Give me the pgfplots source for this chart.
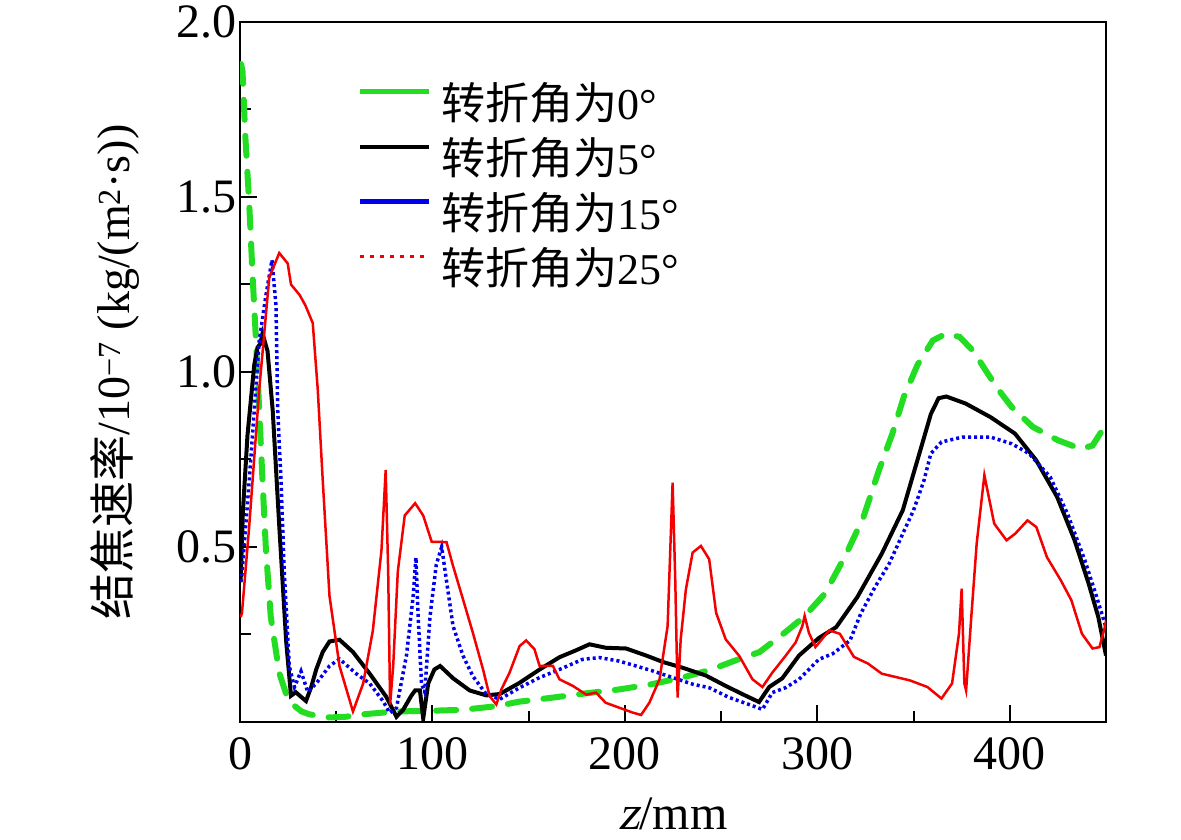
\documentclass[border=0pt]{standalone}
\usepackage{pgfplots}
\pgfplotsset{compat=1.18}
\usepackage{fontspec}
\setmainfont{Liberation Serif}
\newfontfamily\cjk{Noto Sans CJK SC}
\newfontfamily\itserif{Liberation Serif}[FakeSlant=0.22]
\definecolor{cgreen}{RGB}{34,221,34}
\definecolor{cblue}{RGB}{0,0,235}
\definecolor{cred}{RGB}{245,0,0}
\begin{document}
\begin{tikzpicture}[x=1pt,y=1pt]
\path[use as bounding box] (0,0) rectangle (1181,840);
\begin{axis}[
  at={(240pt,118pt)}, anchor=south west,
  scale only axis, width=866pt, height=700pt,
  xmin=0, xmax=450, ymin=0, ymax=2,
  xtick={0,100,200,300,400},
  minor xtick={50,150,250,350},
  ytick={0.5,1.0,1.5,2.0},
  minor ytick={0.25,0.75,1.25,1.75},
  xtick pos=bottom, ytick pos=left,
  tick align=inside,
  major tick length=17pt, minor tick length=11pt,
  every tick/.style={black, line width=2pt},
  axis line style={line width=2.5pt},
  /pgf/number format/assume math mode=true,
  ticklabel style={font=\fontsize{48}{52}\selectfont},
  xticklabel style={yshift=-12pt},
  yticklabel style={/pgf/number format/fixed, /pgf/number format/fixed zerofill, /pgf/number format/precision=1},
  xlabel={{\itserif z}/mm},
  xlabel style={font=\fontsize{48}{52}\selectfont, at={(axis description cs:0.5,-0.132)}, anchor=center},
  ylabel={{\cjk 结焦速率}/10\textsuperscript{−7} (kg/(m\textsuperscript{2}·s))},
  ylabel style={font=\fontsize{46}{50}\selectfont, at={(axis description cs:-0.144,0.5)}, anchor=center},
  legend image code/.code={\draw[#1] (0pt,15pt) -- (69pt,15pt);},
  legend style={draw=none, fill=none, inner sep=0pt, column sep=10pt, row sep=9pt,
    font=\fontsize{44}{48}\selectfont,
    nodes={inner sep=0pt, text height=36pt, text depth=10pt},
    at={(axis description cs:0.136,0.912)}, anchor=north west},
  legend cell align=left,
]
% 0 deg (green dashed)
\addplot[forget plot, color=cgreen, line width=6pt, dash pattern=on 20pt off 16pt, line cap=round] coordinates {
(0.5,1.88) (1.3,1.86) (2.7,1.68) (4.8,1.48) (6.5,1.28) (8.3,1.09) (10,0.89) (11.7,0.69) (13.5,0.49) (16,0.30) (20.4,0.14) (24,0.08) (27.4,0.05) (32,0.03) (36,0.022) (46.5,0.013) (55,0.015) (64,0.022) (81,0.03) (99,0.032) (116,0.035) (133,0.045) (145,0.058) (160,0.068) (180,0.082) (197,0.093) (214,0.108) (232,0.13) (245,0.15) (257,0.175) (270,0.2) (283,0.255) (293,0.30) (304,0.367) (315,0.48) (324,0.586) (332,0.719) (339,0.824) (345,0.93) (352,1.02) (360,1.09) (367,1.11) (374,1.10) (381,1.06) (388,1.00) (394,0.95) (401,0.90) (412,0.843) (425,0.805) (437,0.78) (443,0.79) (446.5,0.82) (450,0.85)
};
% 5 deg (black)
\addplot[forget plot, color=black, line width=4pt] coordinates {
(0.3,0.40) (1.5,0.6) (3.9,0.82) (7.4,1.02) (9.1,1.07) (10.5,1.08) (11.7,1.11) (14.3,1.06) (17,0.89) (20.4,0.56) (24,0.23) (26.5,0.075) (29,0.085) (31.7,0.072) (34.3,0.06) (37,0.10) (39.6,0.15) (43,0.2) (46.5,0.23) (51.7,0.235) (58.7,0.20) (67.4,0.138) (76,0.072) (81.3,0.015) (84.8,0.035) (89,0.075) (91,0.09) (93.5,0.09) (95.2,0.01) (97.8,0.11) (101,0.15) (104,0.16) (110.7,0.125) (119.4,0.09) (128,0.076) (135,0.08) (145.3,0.112) (155.7,0.15) (166,0.185) (174.7,0.205) (181.6,0.222) (190.2,0.212) (200.6,0.21) (211,0.19) (220,0.171) (230,0.155) (242,0.133) (252.4,0.103) (262.8,0.075) (269.7,0.057) (275,0.10) (281.8,0.125) (290.5,0.19) (300.8,0.24) (309.8,0.271) (320.8,0.357) (333.5,0.481) (344.4,0.605) (353.5,0.776) (359,0.88) (363,0.925) (367,0.93) (377,0.91) (390,0.871) (402.7,0.824) (413.7,0.748) (424.6,0.643) (433.7,0.519) (441,0.395) (446,0.30) (450,0.19)
};
% 15 deg (blue dotted)
\addplot[forget plot, color=cblue, line width=3.5pt, dash pattern=on 3pt off 3pt] coordinates {
(0.3,0.40) (1,0.42) (4.8,0.69) (10,1.09) (13.5,1.22) (16.6,1.32) (18.7,1.19) (19.6,0.89) (21.3,0.69) (23,0.43) (25.6,0.16) (28.3,0.10) (31.7,0.145) (35.2,0.086) (39.6,0.11) (46.5,0.16) (51.7,0.18) (60.4,0.138) (67.4,0.11) (74.3,0.06) (77.8,0.026) (81.3,0.04) (86.5,0.19) (90,0.36) (91.4,0.47) (92.6,0.30) (94.3,0.11) (96,0.086) (98.7,0.30) (102,0.45) (104.8,0.50) (107.4,0.40) (110.7,0.274) (115.9,0.189) (121,0.131) (128,0.079) (135,0.065) (145.3,0.098) (155.7,0.127) (166,0.15) (178,0.179) (186.8,0.184) (197,0.174) (205.8,0.16) (214.4,0.146) (224.8,0.127) (235.2,0.108) (243.8,0.098) (254.2,0.07) (264.5,0.05) (271.5,0.036) (276.6,0.084) (283.5,0.098) (290.5,0.122) (300.8,0.179) (308,0.195) (317,0.233) (322.6,0.31) (330,0.386) (337.3,0.452) (344.4,0.538) (350,0.605) (355.4,0.69) (359,0.767) (364.5,0.80) (375.4,0.814) (390,0.814) (401,0.795) (410,0.767) (421,0.70) (430,0.595) (439,0.462) (445,0.36) (450,0.27)
};
% 25 deg (red)
\addplot[forget plot, color=cred, line width=2.5pt] coordinates {
(0.3,0.30) (1,0.31) (4.8,0.56) (10,0.95) (15.2,1.27) (20.4,1.34) (24.8,1.31) (26.5,1.25) (31,1.22) (34,1.19) (37.8,1.14) (40.4,0.95) (43,0.69) (46.5,0.36) (51.7,0.16) (58.7,0.03) (64,0.11) (69,0.26) (73.5,0.49) (75.7,0.72) (77,0.43) (78,0.05) (79.6,0.16) (82,0.43) (85.6,0.59) (91,0.625) (95.2,0.59) (99.6,0.515) (107.3,0.514) (110.7,0.446) (115.9,0.35) (121,0.255) (126.3,0.15) (129.7,0.074) (133.2,0.05) (135.8,0.093) (140,0.14) (145.3,0.217) (148.7,0.233) (153,0.208) (155.7,0.16) (162.6,0.16) (166,0.122) (173,0.103) (180,0.078) (185,0.084) (190,0.055) (197,0.041) (204,0.027) (208.4,0.02) (212.7,0.055) (218,0.122) (222.2,0.274) (224.8,0.684) (226.2,0.40) (227.4,0.07) (229,0.236) (231.7,0.379) (235.2,0.484) (239.5,0.503) (243.8,0.465) (247.4,0.312) (252.4,0.236) (259.4,0.189) (266.3,0.122) (271.5,0.10) (276.6,0.141) (283.5,0.189) (288.7,0.227) (292.2,0.274) (293.4,0.303) (295.6,0.255) (299,0.214) (306.2,0.262) (311.7,0.252) (319,0.186) (326.3,0.167) (333.5,0.138) (348,0.119) (357.2,0.10) (364.5,0.067) (370,0.11) (373.6,0.252) (375,0.381) (376.4,0.11) (377.3,0.09) (380,0.30) (382.8,0.51) (386.8,0.705) (391.9,0.567) (398.3,0.519) (402.8,0.538) (409.2,0.576) (413.8,0.557) (419.3,0.471) (426.5,0.405) (432,0.348) (437.5,0.252) (443,0.21) (446.6,0.214) (449.4,0.271) (450,0.29)
};
\addlegendimage{color=cgreen, line width=5pt}
\addlegendentry{{\cjk 转折角为}0°}
\addlegendimage{color=black, line width=4pt}
\addlegendentry{{\cjk 转折角为}5°}
\addlegendimage{color=cblue, line width=5pt}
\addlegendentry{{\cjk 转折角为}15°}
\addlegendimage{color=cred, line width=3pt, dash pattern=on 4pt off 6pt}
\addlegendentry{{\cjk 转折角为}25°}
\end{axis}
\end{tikzpicture}
\end{document}
